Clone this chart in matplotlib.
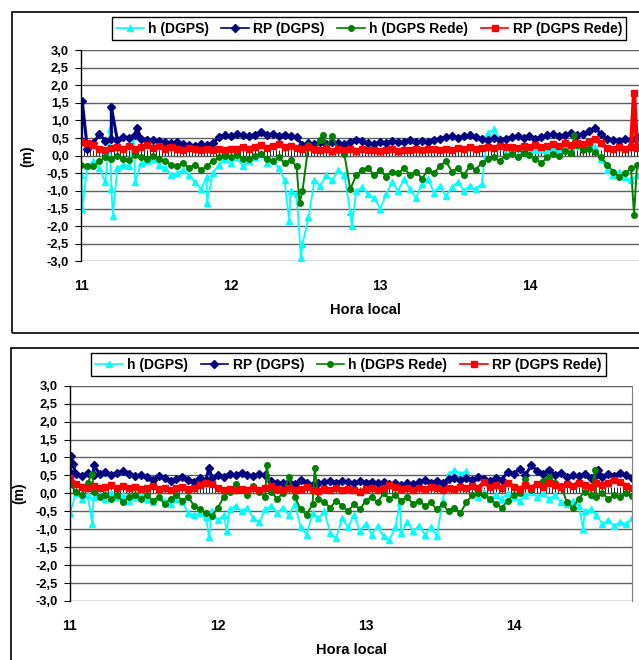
import numpy as np
import matplotlib
matplotlib.use("Agg")
import matplotlib.pyplot as plt
from matplotlib.patches import Rectangle
from matplotlib.ticker import FuncFormatter

plt.rcParams['font.family'] = ['Liberation Sans', 'DejaVu Sans']
plt.rcParams['font.weight'] = 'bold'
plt.rcParams['axes.labelweight'] = 'bold'

# time grid (local hour), one reading every 0.04 h
hours = np.round(np.arange(11.0, 14.801, 0.04), 2)

labels = ['h (DGPS)', 'RP (DGPS)', 'h (DGPS Rede)', 'RP (DGPS Rede)']
colors = ['#00FFFF', '#000080', '#008000', '#FF0000']
markers = ['^', 'D', 'o', 's']

# ---------------- top chart ----------------
top_h_dgps = [
    -0.55, -0.30, -0.15, -0.35, -0.75, -0.95, -0.35, -0.25, -0.30, -0.75, -0.20, -0.15,
    -0.10, -0.25, -0.35, -0.55, -0.50, -0.40, -0.55, -0.75, -0.95, -0.60, -0.50, -0.25,
    -0.10, -0.20, -0.05, -0.30, -0.15, -0.05, 0.05, -0.20, -0.10, -0.35, -0.70, -1.00,
    -1.10, -2.50, -1.75, -0.70, -0.85, -0.55, -0.70, -0.40, -0.55, -1.60, -1.00, -0.90,
    -1.10, -1.20, -1.50, -1.10, -0.75, -1.00, -0.65, -0.95, -1.20, -0.80, -0.65, -1.05,
    -0.85, -1.15, -0.90, -0.75, -1.00, -0.85, -0.95, -0.80, 0.65, 0.75, 0.50, 0.05,
    0.08, 0.02, 0.10, 0.05, 0.15, 0.20, 0.12, 0.22, 0.18, 0.25, 0.20, 0.28,
    0.22, 0.30, 0.25, -0.10, -0.40, -0.55, -0.45, -0.60, -0.70, -0.55, -0.75, -0.65,
]
top_h_dgps_spikes = [(11.005, -1.50), (11.19, 0.75), (11.21, -1.70), (11.35, 0.55),
                     (11.84, -1.33), (12.39, -1.85), (12.47, -2.90), (12.81, -2.00)]

top_rp_dgps = [
    0.45, 0.18, 0.35, 0.62, 0.42, 0.48, 0.45, 0.52, 0.50, 0.58, 0.48, 0.46,
    0.45, 0.42, 0.38, 0.35, 0.40, 0.32, 0.30, 0.28, 0.32, 0.30, 0.35, 0.52,
    0.60, 0.55, 0.62, 0.58, 0.55, 0.60, 0.66, 0.58, 0.62, 0.55, 0.60, 0.56,
    0.52, 0.30, 0.35, 0.32, 0.38, 0.34, 0.40, 0.36, 0.32, 0.38, 0.46, 0.42,
    0.36, 0.34, 0.38, 0.35, 0.42, 0.38, 0.40, 0.44, 0.38, 0.42, 0.40, 0.45,
    0.48, 0.52, 0.56, 0.50, 0.55, 0.58, 0.52, 0.48, 0.45, 0.50, 0.46, 0.48,
    0.52, 0.56, 0.50, 0.55, 0.48, 0.52, 0.58, 0.62, 0.55, 0.60, 0.65, 0.58,
    0.62, 0.70, 0.78, 0.62, 0.48, 0.45, 0.42, 0.48, 0.45, 0.52, 0.68, 0.62,
]
top_rp_dgps_spikes = [(11.005, 1.55), (11.20, 1.38), (11.37, 0.80)]

top_h_rede = [
    -0.25, -0.28, -0.30, -0.15, -0.05, -0.10, 0.00, -0.08, -0.12, 0.02, -0.05, -0.10,
    -0.02, -0.08, -0.15, -0.25, -0.30, -0.20, -0.35, -0.25, -0.40, -0.30, -0.15, -0.05,
    0.00, -0.05, 0.02, -0.08, -0.10, -0.02, 0.05, -0.10, -0.15, -0.05, -0.20, -0.12,
    -0.30, -1.00, 0.30, 0.15, 0.45, 0.25, 0.55, 0.15, 0.05, -0.95, -0.55, -0.40,
    -0.35, -0.55, -0.40, -0.60, -0.45, -0.50, -0.35, -0.55, -0.45, -0.65, -0.40, -0.50,
    -0.30, -0.15, -0.45, -0.35, -0.55, -0.30, -0.40, -0.20, -0.10, -0.05, -0.15, 0.00,
    0.05, -0.05, 0.08, 0.02, -0.10, -0.20, -0.05, 0.05, 0.00, 0.12, 0.08, 0.30,
    0.15, 0.20, 0.10, -0.05, -0.25, -0.45, -0.60, -0.50, -0.35, -0.25, -0.15, -0.20,
]
top_h_rede_spikes = [(12.46, -1.35), (12.62, 0.60), (14.30, 0.60), (14.70, -1.68)]

top_rp_rede = [
    0.38, 0.35, 0.30, 0.18, 0.15, 0.22, 0.25, 0.18, 0.28, 0.20, 0.25, 0.30,
    0.22, 0.28, 0.18, 0.25, 0.20, 0.15, 0.22, 0.18, 0.15, 0.20, 0.16, 0.20,
    0.15, 0.20, 0.18, 0.24, 0.20, 0.26, 0.30, 0.22, 0.28, 0.32, 0.24, 0.28,
    0.22, 0.18, 0.25, 0.20, 0.15, 0.18, 0.14, 0.20, 0.16, 0.18, 0.14, 0.18,
    0.15, 0.17, 0.13, 0.16, 0.18, 0.14, 0.17, 0.15, 0.19, 0.16, 0.18, 0.20,
    0.17, 0.20, 0.16, 0.22, 0.19, 0.24, 0.20, 0.22, 0.25, 0.23, 0.27, 0.24,
    0.26, 0.22, 0.28, 0.25, 0.30, 0.24, 0.28, 0.32, 0.27, 0.35, 0.30, 0.36,
    0.32, 0.40, 0.48, 0.35, 0.22, 0.18, 0.24, 0.20, 0.26, 0.22, 0.28, 0.24,
]
top_rp_rede_spikes = [(14.70, 1.78)]

# ---------------- bottom chart ----------------
bot_h_dgps = [
    -0.55, 0.00, -0.15, -0.05, -0.10, -0.05, -0.15, 0.00, -0.10, -0.05, -0.20, -0.10,
    -0.05, -0.15, -0.25, -0.10, -0.20, -0.30, -0.15, -0.25, -0.55, -0.60, -0.55, -0.65,
    -0.50, -0.75, -0.60, -0.45, -0.35, -0.50, -0.40, -0.70, -0.80, -0.45, -0.35, -0.55,
    -0.40, -0.60, -0.30, -0.95, -1.15, -0.55, -0.70, -0.50, -1.10, -1.25, -0.70, -0.95,
    -0.60, -1.05, -0.85, -1.15, -0.90, -1.20, -1.30, -0.95, -1.10, -0.80, -1.05, -0.90,
    -1.15, -0.95, -1.20, -0.20, 0.55, 0.65, 0.55, 0.62, 0.20, -0.10, 0.05, -0.15,
    -0.05, -0.15, 0.00, -0.10, -0.20, -0.05, 0.05, -0.10, 0.00, -0.15, -0.05, -0.25,
    -0.30, -0.20, -0.35, -0.50, -0.45, -0.60, -0.85, -0.75, -0.90, -0.80, -0.85, -0.70,
]
bot_h_dgps_spikes = [(11.15, -0.85), (11.94, -1.23), (12.06, -1.05), (13.23, -0.25),
                     (14.47, -1.00)]

bot_rp_dgps = [
    0.60, 0.55, 0.48, 0.58, 0.52, 0.55, 0.60, 0.52, 0.58, 0.62, 0.55, 0.48,
    0.52, 0.45, 0.38, 0.48, 0.42, 0.35, 0.40, 0.45, 0.38, 0.32, 0.42, 0.38,
    0.42, 0.50, 0.45, 0.55, 0.50, 0.58, 0.52, 0.48, 0.55, 0.50, 0.35, 0.30,
    0.28, 0.32, 0.25, 0.38, 0.30, 0.22, 0.28, 0.32, 0.35, 0.30, 0.35, 0.32,
    0.28, 0.35, 0.30, 0.33, 0.28, 0.32, 0.25, 0.30, 0.22, 0.28, 0.25, 0.32,
    0.38, 0.30, 0.35, 0.28, 0.40, 0.42, 0.36, 0.44, 0.38, 0.45, 0.40, 0.35,
    0.42, 0.38, 0.60, 0.55, 0.68, 0.52, 0.78, 0.62, 0.55, 0.65, 0.50, 0.58,
    0.45, 0.52, 0.48, 0.55, 0.42, 0.50, 0.45, 0.55, 0.48, 0.58, 0.50, 0.42,
]
bot_rp_dgps_spikes = [(11.005, 1.05), (11.02, 0.82), (11.16, 0.78), (11.94, 0.72),
                      (14.57, 0.66)]

bot_h_rede = [
    0.25, 0.05, -0.05, 0.30, 0.05, -0.10, -0.05, -0.15, -0.05, -0.25, -0.10, -0.05,
    -0.15, -0.05, -0.20, -0.10, -0.30, -0.15, -0.05, -0.20, -0.10, -0.35, -0.45, -0.55,
    -0.62, -0.40, -0.10, 0.05, 0.25, 0.10, -0.05, 0.20, 0.05, -0.10, 0.05, -0.15,
    0.00, 0.45, -0.10, -0.45, -0.60, -0.30, -0.15, -0.25, -0.40, -0.20, -0.35, -0.50,
    -0.30, -0.45, -0.20, -0.10, -0.25, 0.00, -0.15, -0.05, -0.20, -0.10, -0.30, -0.20,
    -0.35, -0.25, -0.45, -0.30, -0.50, -0.40, -0.55, -0.25, -0.05, 0.00, -0.05, -0.15,
    -0.30, -0.40, -0.20, -0.05, 0.00, 0.40, 0.10, 0.25, 0.35, 0.45, 0.30, 0.20,
    -0.25, -0.40, -0.15, 0.05, -0.05, -0.10, 0.00, -0.15, -0.05, -0.10, 0.00, -0.08,
]
bot_h_rede_spikes = [(11.15, 0.55), (12.33, 0.78), (12.655, 0.70), (14.55, 0.65)]

bot_rp_rede = [
    0.42, 0.25, 0.18, 0.15, 0.20, 0.14, 0.18, 0.22, 0.15, 0.20, 0.16, 0.18,
    0.12, 0.16, 0.20, 0.12, 0.15, 0.10, 0.14, 0.18, 0.12, 0.16, 0.22, 0.30,
    0.25, 0.15, 0.10, 0.13, 0.08, 0.12, 0.10, 0.14, 0.10, 0.15, 0.20, 0.12,
    0.10, 0.14, 0.08, 0.12, 0.18, 0.10, 0.06, 0.12, 0.09, 0.14, 0.08, 0.12,
    0.10, 0.05, 0.12, 0.16, 0.10, 0.14, 0.22, 0.18, 0.12, 0.15, 0.10, 0.14,
    0.12, 0.18, 0.14, 0.10, 0.16, 0.13, 0.18, 0.15, 0.20, 0.14, 0.32, 0.18,
    0.24, 0.15, 0.30, 0.18, 0.12, 0.22, 0.16, 0.25, 0.18, 0.28, 0.22, 0.18,
    0.26, 0.20, 0.30, 0.24, 0.18, 0.28, 0.22, 0.30, 0.38, 0.32, 0.20, 0.15,
]
bot_rp_rede_spikes = []

top_series = [(top_h_dgps, top_h_dgps_spikes), (top_rp_dgps, top_rp_dgps_spikes),
              (top_h_rede, top_h_rede_spikes), (top_rp_rede, top_rp_rede_spikes)]
bot_series = [(bot_h_dgps, bot_h_dgps_spikes), (bot_rp_dgps, bot_rp_dgps_spikes),
              (bot_h_rede, bot_h_rede_spikes), (bot_rp_rede, bot_rp_rede_spikes)]


def merge(values, spikes):
    t = np.concatenate([hours, [s[0] for s in spikes]])
    v = np.concatenate([values, [s[1] for s in spikes]])
    order = np.argsort(t, kind='stable')
    return t[order], v[order]


comma = FuncFormatter(lambda v, pos: f"{v:.1f}".replace('.', ','))
sizes = [5, 4, 4, 5]
widths = [1.3, 2.2, 1.4, 3.0]


def draw_panel(ax, series, legend_xy, ylabel_x):
    for (vals, spikes), lab, c, m, ms, lw in zip(series, labels, colors, markers, sizes, widths):
        t, v = merge(vals, spikes)
        ax.plot(t, v, color=c, marker=m, markersize=ms, lw=lw, label=lab)

    ax.set_xlim(11, 14.8)
    ax.set_ylim(-3, 3)
    ax.set_yticks(np.arange(-3, 3.01, 0.5))
    ax.yaxis.set_major_formatter(comma)
    ax.yaxis.grid(True, color='#606060', lw=1)
    ax.set_axisbelow(True)
    ax.set_xticks([11, 12, 13, 14])
    ax.set_xticklabels(['11', '12', '13', '14'])
    ax.tick_params(axis='x', length=0, pad=13, labelsize=10)
    ax.tick_params(axis='y', length=4, direction='out', labelsize=9.3, pad=5)
    for s in ['top', 'right', 'bottom']:
        ax.spines[s].set_visible(False)
    ax.spines['left'].set_linewidth(1)
    ax.set_xlabel('Hora local', fontsize=10.5, labelpad=7)
    ax.set_ylabel('(m)', fontsize=10)
    ax.yaxis.set_label_coords(ylabel_x, 0.5)

    # category axis crossing at zero, one tick per reading
    zero = ax.secondary_xaxis(0.5)
    zero.set_xticks(np.arange(11, 14.801, 0.02), labels=[])
    zero.tick_params(length=4, width=0.6, color='black')
    zero.spines['bottom'].set_color('black')

    leg = ax.legend(loc='center', bbox_to_anchor=legend_xy, bbox_transform=fig.transFigure,
                    ncol=4, fancybox=False, edgecolor='black', framealpha=1,
                    handlelength=2.0, columnspacing=0.9, handletextpad=0.3,
                    borderpad=0.3, prop={'weight': 'bold', 'size': 10})
    leg.get_frame().set_linewidth(1)
    for h in leg.get_lines():
        h.set_linewidth(1.2)


fig = plt.figure(figsize=(6.39, 6.60), dpi=100)

ax_top = fig.add_axes([0.1275, 0.6039, 0.8881, 0.3203])
ax_bot = fig.add_axes([0.1095, 0.0894, 0.8795, 0.3262])

draw_panel(ax_top, top_series, (0.5775, 0.9568), -0.083)
draw_panel(ax_bot, bot_series, (0.545, 0.4477), -0.078)
ax_bot.spines['right'].set_visible(True)
ax_bot.spines['right'].set_color('#808080')

# chart area borders
fig.patches.append(Rectangle((0.0188, 0.4959), 1.2, 0.4864, transform=fig.transFigure,
                             fill=False, ec='black', lw=1.2))
fig.patches.append(Rectangle((0.0172, -0.2), 1.2, 0.6727, transform=fig.transFigure,
                             fill=False, ec='black', lw=1.2))

fig.savefig('out.png', dpi=100)
